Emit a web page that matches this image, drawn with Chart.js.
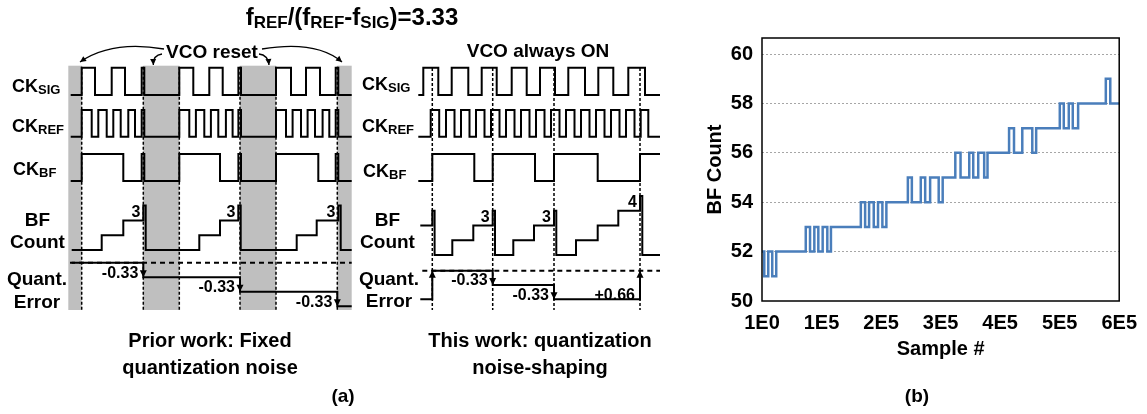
<!DOCTYPE html>
<html>
<head>
<meta charset="utf-8">
<script src="https://cdn.jsdelivr.net/npm/chart.js"></script>
<style>
  body { margin: 0; background: #fff; }
  #wrap { position: relative; width: 1147px; height: 414px; }
  canvas { position: absolute; top: 0; }
</style>
</head>
<body>
<div id="wrap">
  <canvas id="diagram" width="690" height="414" style="left:0"></canvas>
  <canvas id="chart" width="457" height="414" style="left:690px"></canvas>
</div>
<script>
// ---------- panel (a): timing diagrams, time in arbitrary units (0 = first frame edge)
// prior work, VCO reset between frames
const priorFrameT = [0, 61.6, 97.6, 158.3, 194.3, 255.6];
const priorResetStart = [-13.4, 61.6, 158.3, 255.6];
const priorResetEnd = [0, 97.6, 194.3, 270];
const priorSigT = [-11, 0, 13.3, 30, 43.3, 60, 62.6, 97.6, 111.6, 127.6, 141, 156.7, 159.3, 194.3, 209.3, 224.3, 238.3, 254, 256.6, 270];
const priorSigV = [0, 1, 0, 1, 0, 1, 0, 1, 0, 1, 0, 1, 0, 1, 0, 1, 0, 1, 0, 0];
const priorRefT = [-11, 0, 10, 16.6, 25, 31.6, 39, 46.6, 53.3, 60, 62.6,
  97.6, 107.6, 114.2, 122.6, 129.2, 136.6, 144.2, 150.9, 156.7, 159.3,
  194.3, 204.3, 210.9, 219.3, 225.9, 233.3, 240.9, 247.6, 254, 256.6, 270];
const priorRefV = [0, 1, 0, 1, 0, 1, 0, 1, 0, 1, 0, 1, 0, 1, 0, 1, 0, 1, 0, 1, 0, 1, 0, 1, 0, 1, 0, 1, 0, 1, 0, 0];
const priorBfT = [-11, 0, 41.6, 60, 62.6, 97.6, 138.3, 156.7, 159.3, 194.3, 236.6, 254, 256.6, 270];
const priorBfV = [0, 1, 0, 1, 0, 1, 0, 1, 0, 1, 0, 1, 0, 0];
const priorCountT = [-10, 20, 41.6, 61.6, 64, 117.6, 138.3, 156.6, 159, 215, 235, 256.6, 259, 270];
const priorCountV = [0, 1, 2, 3, 0, 1, 2, 3, 0, 1, 2, 3, 0, 0];
const priorErrT = [-10, 61.6, 158.3, 255.6, 270];
const priorErrV = [0, -0.33, -0.66, -0.99, -0.99];

// this work, VCO always on
const oursFrameT = [0, 60.4, 121.7, 207.7];
const oursSigT = [-14, -9, 6, 19.4, 36, 49.4, 64.4, 79.4, 94.4, 107.7, 122.7, 136, 152.7, 166, 181, 196, 212.7, 227.7];
const oursSigV = [0, 1, 0, 1, 0, 1, 0, 1, 0, 1, 0, 1, 0, 1, 0, 1, 0, 0];
const oursRefT = [-14, -1.6, 6.9, 13.7, 22.2, 28.7, 37.2, 43.7, 52.2, 58.7, 67.2, 73.7, 82.2, 88.7, 97.2, 103.7,
  112.2, 118.7, 127.2, 133.7, 142.2, 148.7, 157.2, 163.7, 172.2, 178.7, 187.2, 193.7, 202.2, 208.4, 216, 227.7];
const oursRefV = [0, 1, 0, 1, 0, 1, 0, 1, 0, 1, 0, 1, 0, 1, 0, 1, 0, 1, 0, 1, 0, 1, 0, 1, 0, 1, 0, 1, 0, 1, 0, 0];
const oursBfT = [-14, 0, 42, 60.4, 102.7, 121.7, 165.4, 207.7, 227.7];
const oursBfV = [0, 1, 0, 1, 0, 1, 0, 1, 1];
const oursCountT = [-12, 0, 2.3, 20, 41, 60.4, 62.7, 81, 101.7, 121.7, 124, 143.7, 165.4, 186, 207.7, 210, 227.7];
const oursCountV = [2, 3, 0, 1, 2, 3, 0, 1, 2, 3, 0, 1, 2, 3, 4, 0, 0];
const oursErrT = [-12, 0, 60.4, 121.7, 207.7];
const oursErrV = [-0.66, 0, -0.33, -0.66, 0];

// ---------- panel (b): BF count vs sample
const sampleIdx = [1, 3800, 10500, 17200, 23900,
  73500, 80700, 87900, 94600, 101900, 109700, 115800,
  166000, 173200, 179900, 187700, 194900, 202200, 208900,
  245000, 251700, 266700, 274100, 282400, 296800, 303500,
  324700, 333500, 348100, 354800, 363200, 373200, 378800,
  415000, 423300, 437200, 454000, 460500,
  500200, 506900, 515300, 522000, 531000,
  577500, 585000, 600000];
const bfCount = [52, 51, 52, 51, 52,
  53, 52, 53, 52, 53, 52, 53,
  54, 53, 54, 53, 54, 53, 54,
  55, 54, 55, 54, 55, 54, 55,
  56, 55, 56, 55, 56, 55, 56,
  57, 56, 57, 56, 57,
  58, 57, 58, 57, 58,
  59, 58, 58];
const xTickVals = [0, 100000, 200000, 300000, 400000, 500000, 600000];
const xTickLabels = ['1E0', '1E5', '2E5', '3E5', '4E5', '5E5', '6E5'];
const yTickVals = [50, 52, 54, 56, 58, 60];

const FONT = '"Liberation Sans", Arial, Helvetica, sans-serif';
const bold = size => `bold ${size}px ${FONT}`;

// row geometry (canvas px) of the two timing diagrams
const prior = {
  axis: 'xl', sig: {base: 95, amp: 27.3}, ref: {base: 136.7, amp: 26.7}, bf: {base: 181, amp: 27},
  count: {base: 250, amp: 14.8}, err: {base: 262.7, amp: 44}, top: 65.7, bottom: 310
};
const ours = {
  axis: 'xr', sig: {base: 95, amp: 27.3}, ref: {base: 136.7, amp: 26.7}, bf: {base: 181, amp: 27},
  count: {base: 255, amp: 14.75}, err: {base: 270.7, amp: 43.3}, top: 68, bottom: 310
};

function trace(t, v, row, axis, extra) {
  return Object.assign({
    xAxisID: axis, yAxisID: 'y', showLine: true, stepped: true, pointRadius: 0,
    borderColor: '#000', borderWidth: 2, borderJoinStyle: 'miter', fill: false,
    data: t.map((x, i) => ({x: x, y: row.base - v[i] * row.amp}))
  }, extra || {});
}

function panelSets(p, s) {
  return [
    trace(s.sigT, s.sigV, p.sig, p.axis),
    trace(s.refT, s.refV, p.ref, p.axis),
    trace(s.bfT, s.bfV, p.bf, p.axis),
    trace(s.countT, s.countV, p.count, p.axis),
    trace([s.dashFrom, s.countT[s.countT.length - 1]], [0, 0], p.err, p.axis, {stepped: false, borderDash: [5, 4]}),
    trace(s.errT, s.errV, p.err, p.axis)
  ];
}

const priorSeries = {sigT: priorSigT, sigV: priorSigV, refT: priorRefT, refV: priorRefV, bfT: priorBfT, bfV: priorBfV,
  countT: priorCountT, countV: priorCountV, errT: priorErrT, errV: priorErrV, dashFrom: -11.7};
const oursSeries = {sigT: oursSigT, sigV: oursSigV, refT: oursRefT, refV: oursRefV, bfT: oursBfT, bfV: oursBfV,
  countT: oursCountT, countV: oursCountV, errT: oursErrT, errV: oursErrV, dashFrom: -10};

function rich(ctx, parts, x, y, align) {
  let w = 0;
  parts.forEach(p => { ctx.font = bold(p[1]); w += ctx.measureText(p[0]).width; });
  let cx = align === 'center' ? x - w / 2 : x;
  ctx.textAlign = 'left';
  ctx.textBaseline = 'alphabetic';
  parts.forEach(p => {
    ctx.font = bold(p[1]);
    ctx.fillText(p[0], cx, y + (p[2] || 0));
    cx += ctx.measureText(p[0]).width;
  });
}

function txt(ctx, s, x, y, size, align, baseline) {
  ctx.font = bold(size);
  ctx.textAlign = align || 'left';
  ctx.textBaseline = baseline || 'alphabetic';
  ctx.fillText(s, x, y);
}

function head(ctx, x, y, a, len, half) {
  const c = Math.cos(a), s = Math.sin(a);
  ctx.beginPath();
  ctx.moveTo(x, y);
  ctx.lineTo(x - len * c + half * s, y - len * s - half * c);
  ctx.lineTo(x - len * c - half * s, y - len * s + half * c);
  ctx.closePath();
  ctx.fill();
}

function curved(ctx, x0, y0, cx, cy, x1, y1) {
  ctx.beginPath();
  ctx.moveTo(x0, y0);
  ctx.quadraticCurveTo(cx, cy, x1, y1);
  ctx.stroke();
  head(ctx, x1, y1, Math.atan2(y1 - cy, x1 - cx), 6, 3);
}

// markers and labels derived from the series
function annotate(ctx, chart, p, s) {
  const xs = chart.scales[p.axis];
  const ys = chart.scales.y;
  const px = t => xs.getPixelForValue(t);
  // quantization error steps: arrow heads and step size
  for (let i = 1; i < s.errT.length; i++) {
    const d = s.errV[i] - s.errV[i - 1];
    if (Math.abs(d) < 1e-9) continue;
    const x = px(s.errT[i]);
    const y0 = ys.getPixelForValue(p.err.base - s.errV[i - 1] * p.err.amp);
    const y1 = ys.getPixelForValue(p.err.base - s.errV[i] * p.err.amp);
    head(ctx, x, y1, y1 > y0 ? Math.PI / 2 : -Math.PI / 2, 7, 3.5);
    if (s.errT[i] > 1) {
      txt(ctx, (d > 0 ? '+' : '') + d.toFixed(2), x - 5, Math.max(y0, y1) - 4, 16, 'right', 'middle');
    }
  }
  // final count of each frame
  for (let i = 0; i < s.countT.length - 1; i++) {
    if (s.countV[i] > 0 && s.countV[i + 1] === 0 && s.countT[i] > 1) {
      const y = ys.getPixelForValue(p.count.base - s.countV[i] * p.count.amp);
      txt(ctx, String(s.countV[i]), px(s.countT[i]) - 3, y + 6.5, 16, 'right', 'middle');
    }
  }
}

const diagramDecor = {
  id: 'diagramDecor',
  beforeDatasetsDraw(chart) {
    const ctx = chart.ctx;
    const xl = chart.scales.xl, xr = chart.scales.xr;
    ctx.save();
    ctx.fillStyle = '#bfbfbf';
    priorResetStart.forEach((t0, i) => {
      const a = xl.getPixelForValue(t0), b = xl.getPixelForValue(priorResetEnd[i]);
      ctx.fillRect(a, prior.top, b - a, prior.bottom - prior.top);
    });
    ctx.strokeStyle = '#000';
    ctx.lineWidth = 1.5;
    ctx.setLineDash([3, 2]);
    priorFrameT.forEach(t => {
      const x = xl.getPixelForValue(t);
      ctx.beginPath(); ctx.moveTo(x, prior.top + 1); ctx.lineTo(x, prior.bottom); ctx.stroke();
    });
    oursFrameT.forEach(t => {
      const x = xr.getPixelForValue(t);
      ctx.beginPath(); ctx.moveTo(x, ours.top); ctx.lineTo(x, ours.bottom); ctx.stroke();
    });
    ctx.restore();
  },
  afterDatasetsDraw(chart) {
    const ctx = chart.ctx;
    ctx.save();
    ctx.fillStyle = '#000';
    ctx.strokeStyle = '#000';
    annotate(ctx, chart, prior, priorSeries);
    annotate(ctx, chart, ours, oursSeries);

    // title
    rich(ctx, [['f', 24], ['REF', 17, 3], ['/(f', 24], ['REF', 17, 3], ['-f', 24], ['SIG', 17, 3], [')=3.33', 24]], 352, 25, 'center');

    // row names
    [12, 362].forEach((x, k) => {
      rich(ctx, [['CK', 18], ['SIG', 13, 2]], x, k ? 90 : 91.5);
      rich(ctx, [['CK', 18], ['REF', 13, 2]], x, 131.5);
      rich(ctx, [['CK', 18], ['BF', 13, 2]], x + 1, k ? 176.5 : 175);
    });
    [[37.5, 37, 308], [387.5, 389, 306.5]].forEach(r => {
      txt(ctx, 'BF', r[0], 226, 19, 'center');
      txt(ctx, 'Count', r[0], 248, 19, 'center');
      txt(ctx, 'Quant.', r[1], 285, 19, 'center');
      txt(ctx, 'Error', r[1], r[2], 19, 'center');
    });

    // headings and captions
    txt(ctx, 'VCO reset', 212, 58, 19, 'center');
    txt(ctx, 'VCO always ON', 538, 56.5, 19, 'center');
    txt(ctx, 'Prior work: Fixed', 210, 347, 20, 'center');
    txt(ctx, 'quantization noise', 210, 374, 20, 'center');
    txt(ctx, 'This work: quantization', 540, 347, 20, 'center');
    txt(ctx, 'noise-shaping', 540, 374, 20, 'center');
    txt(ctx, '(a)', 343, 402, 19, 'center');

    // VCO reset call-outs
    const xl = chart.scales.xl;
    const tgt = [priorResetEnd[0] - 1.7, priorResetStart[1] + 10, priorResetEnd[2] - 7, priorResetStart[3] + 4.7].map(t => xl.getPixelForValue(t));
    ctx.lineWidth = 1.3;
    curved(ctx, 164, 49, 112, 40, tgt[0], 62);
    curved(ctx, 162, 54, 153, 55, tgt[1], 65);
    curved(ctx, 259, 54, 268, 55, tgt[2], 65);
    curved(ctx, 262, 49, 316, 40, tgt[3], 62);
    ctx.restore();
  }
};

new Chart(document.getElementById('diagram'), {
  type: 'scatter',
  data: {datasets: panelSets(prior, priorSeries).concat(panelSets(ours, oursSeries))},
  options: {
    responsive: false, animation: false, events: [], devicePixelRatio: 1,
    layout: {padding: 0},
    plugins: {legend: {display: false}, tooltip: {enabled: false}},
    scales: {
      xl: {type: 'linear', axis: 'x', display: false, min: -81.7, max: 608.3},
      xr: {type: 'linear', axis: 'x', display: false, min: -432.3, max: 257.7},
      y: {type: 'linear', display: false, min: 0, max: 414, reverse: true}
    }
  },
  plugins: [diagramDecor]
});

// ---------- chart (b)
const frameB = {
  id: 'frameB',
  afterDraw(chart) {
    const {ctx, chartArea: a} = chart;
    ctx.save();
    ctx.strokeStyle = '#000';
    ctx.lineWidth = 1.5;
    ctx.strokeRect(a.left, a.top, a.right - a.left, a.bottom - a.top);
    ctx.fillStyle = '#000';
    txt(ctx, '(b)', 227, 402, 19, 'center');
    ctx.restore();
  }
};

const tickFont = {family: FONT, size: 20, weight: 'bold'};

new Chart(document.getElementById('chart'), {
  type: 'scatter',
  data: {
    datasets: [{
      data: sampleIdx.map((s, i) => ({x: s, y: bfCount[i]})),
      showLine: true, stepped: true, pointRadius: 0,
      borderColor: '#4a7ebb', borderWidth: 2.5
    }]
  },
  options: {
    responsive: false, animation: false, events: [], devicePixelRatio: 1,
    layout: {padding: {top: 38, right: 26, bottom: 0, left: 0}},
    plugins: {legend: {display: false}, tooltip: {enabled: false}},
    scales: {
      x: {
        type: 'linear', min: 0, max: 600000,
        afterBuildTicks: s => { s.ticks = xTickVals.map(v => ({value: v})); },
        afterFit: s => { s.height = 113; },
        grid: {display: false, drawTicks: false},
        border: {display: false},
        ticks: {padding: 10, font: tickFont, color: '#000', maxRotation: 0, autoSkip: false,
          callback: (v, i) => xTickLabels[i]},
        title: {display: true, text: 'Sample #', font: tickFont, color: '#000', padding: {top: 0, bottom: 53}}
      },
      y: {
        type: 'linear', min: 50, max: 60.65,
        afterBuildTicks: s => { s.ticks = yTickVals.map(v => ({value: v})); },
        afterFit: s => { s.width = 72; },
        grid: {color: c => (c.tick && c.tick.value === 50 ? 'rgba(0,0,0,0)' : '#a6a6a6'), lineWidth: 1, drawTicks: false},
        border: {display: false, dash: [2, 2]},
        ticks: {padding: 9, font: tickFont, color: '#000'},
        title: {display: true, text: 'BF Count', font: tickFont, color: '#000', padding: {top: 13, bottom: 0}}
      }
    }
  },
  plugins: [frameB]
});
</script>
</body>
</html>
